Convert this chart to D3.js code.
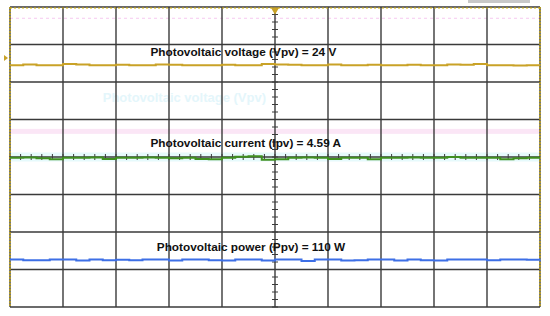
<!DOCTYPE html>
<html>
<head>
<meta charset="utf-8">
<script src="https://cdn.jsdelivr.net/npm/d3@7"></script>
<style>
  body { margin: 0; background: #fff; }
  svg { display: block; }
</style>
</head>
<body>
<div id="chart"></div>
<script>
// scope trace samples, in divisions from the screen centre (41 samples across 10 divisions)
const voltageTrace = [2.45,2.47,2.45,2.45,2.48,2.47,2.45,2.45,2.46,2.45,2.45,2.47,2.46,2.45,2.45,2.45,2.46,2.45,2.45,2.48,2.47,2.46,2.45,2.45,2.47,2.45,2.45,2.46,2.45,2.45,2.46,2.45,2.45,2.47,2.46,2.48,2.45,2.45,2.44,2.45,2.45];
const currentTrace = [-0.02,-0.01,-0.03,-0.06,-0.02,-0.02,-0.01,-0.05,-0.02,-0.02,-0.01,-0.02,-0.03,-0.02,-0.05,-0.06,-0.02,0.01,0.02,-0.07,-0.06,-0.02,-0.01,-0.02,-0.05,-0.02,-0.02,-0.06,-0.02,-0.02,-0.01,-0.02,-0.02,0.0,-0.02,-0.02,-0.02,-0.06,-0.03,-0.02,-0.02];
const powerTrace = [-2.73,-2.75,-2.75,-2.73,-2.73,-2.76,-2.73,-2.75,-2.74,-2.75,-2.73,-2.73,-2.76,-2.73,-2.73,-2.75,-2.76,-2.73,-2.73,-2.76,-2.73,-2.73,-2.77,-2.73,-2.73,-2.76,-2.75,-2.73,-2.73,-2.76,-2.73,-2.75,-2.76,-2.73,-2.73,-2.73,-2.75,-2.73,-2.73,-2.74,-2.73];
const traceLabels = ["Photovoltaic voltage (Vpv) = 24 V", "Photovoltaic current (Ipv) = 4.59 A", "Photovoltaic power (Ppv) = 110 W"];
const labelLevels = [2.7, 0.27, -2.5];
const xDivs = d3.range(0, 11);
const yDivs = d3.range(-4, 5);

const w = 550, h = 316;
const gLeft = 10, gRight = 540, gTop = 7, gBottom = 307;
const labelStart = [2.65, 2.65, 2.77];

const svg = d3.select("#chart").append("svg")
  .attr("width", w).attr("height", h);

const x = d3.scaleLinear().domain([0, 10]).range([gLeft, gRight]);
const y = d3.scaleLinear().domain([-4, 4]).range([gBottom, gTop]);

// faint ghost artefacts from the scope capture
svg.append("line").attr("x1", x(0)).attr("x2", x(10)).attr("y1", y(3.7)).attr("y2", y(3.7))
  .attr("stroke", "#f6c8f0").attr("stroke-dasharray", "3,3");
svg.append("rect").attr("x", x(0)).attr("y", y(0.75)).attr("width", x(10) - x(0)).attr("height", 5)
  .attr("fill", "#fbe6f6");
svg.append("rect").attr("x", x(0)).attr("y", y(0.12)).attr("width", x(10) - x(0)).attr("height", 9)
  .attr("fill", "#e6fafc");
svg.append("text").attr("x", x(1.75)).attr("y", y(1.47))
  .style("font", "bold 13px 'Liberation Sans', Arial, sans-serif")
  .attr("fill", "#e4f6fb").text("Photovoltaic voltage (Vpv)");

// grid
svg.append("g").selectAll("line").data(xDivs).enter().append("line")
  .attr("x1", d => x(d)).attr("x2", d => x(d))
  .attr("y1", y(4)).attr("y2", y(-4))
  .attr("stroke", "#3a3a3a").attr("stroke-width", 1.4);
svg.append("g").selectAll("line").data(yDivs).enter().append("line")
  .attr("x1", x(0)).attr("x2", x(10))
  .attr("y1", d => y(d)).attr("y2", d => y(d))
  .attr("stroke", "#3a3a3a").attr("stroke-width", 1.4);

// centre axis minor ticks
const xMinor = d3.range(0, 50).map(i => i / 5);
const yMinor = d3.range(0, 40).map(i => -4 + i / 5);
svg.append("g").selectAll("line").data(yMinor).enter().append("line")
  .attr("x1", x(5) - 3).attr("x2", x(5) + 3)
  .attr("y1", d => y(d)).attr("y2", d => y(d))
  .attr("stroke", "#3a3a3a");
svg.append("g").selectAll("line").data(xMinor).enter().append("line")
  .attr("x1", d => x(d)).attr("x2", d => x(d))
  .attr("y1", y(0) - 3).attr("y2", y(0) + 3)
  .attr("stroke", "#3a3a3a");

// dashed yellow frame edges
[0, 10].forEach(v => {
  svg.append("line").attr("x1", x(v)).attr("x2", x(v)).attr("y1", y(4)).attr("y2", y(-4))
    .attr("stroke", "#d4b000").attr("stroke-width", 1.2).attr("stroke-dasharray", "2,1");
});
svg.append("line").attr("x1", x(0)).attr("x2", x(10)).attr("y1", y(4) + 1).attr("y2", y(4) + 1)
  .attr("stroke", "#d4b000").attr("stroke-dasharray", "2,2");
svg.append("rect").attr("x", 468).attr("y", 0).attr("width", 62).attr("height", 3).attr("fill", "#c8c8c8");

// trigger marker and channel markers
svg.append("path").attr("d", d3.symbol(d3.symbolTriangle, 30)())
  .attr("transform", `translate(${x(5)},${y(4) + 3}) rotate(180)`).attr("fill", "#c9a227");
svg.append("path").attr("d", "M4,55 L8,58 L4,61 Z").attr("fill", "#c9a227");

// traces
const traces = [
  { data: voltageTrace, color: "#c9a227" },
  { data: currentTrace, color: "#3f8f1f" },
  { data: powerTrace, color: "#3d6fe6" }
];
const line = d3.line()
  .x((d, i) => x(i / 4))
  .y(d => y(d))
  .curve(d3.curveStepAfter);
traces.forEach(t => {
  svg.append("path").datum(t.data)
    .attr("d", line)
    .attr("fill", "none")
    .attr("stroke", t.color)
    .attr("stroke-width", 2);
});

// labels
svg.append("g").selectAll("text").data(traceLabels).enter().append("text")
  .attr("x", (d, i) => x(labelStart[i]))
  .attr("y", (d, i) => y(labelLevels[i]))
  .style("font", "bold 11.8px 'Liberation Sans', Arial, sans-serif")
  .attr("fill", "#111")
  .text(d => d);
</script>
</body>
</html>
